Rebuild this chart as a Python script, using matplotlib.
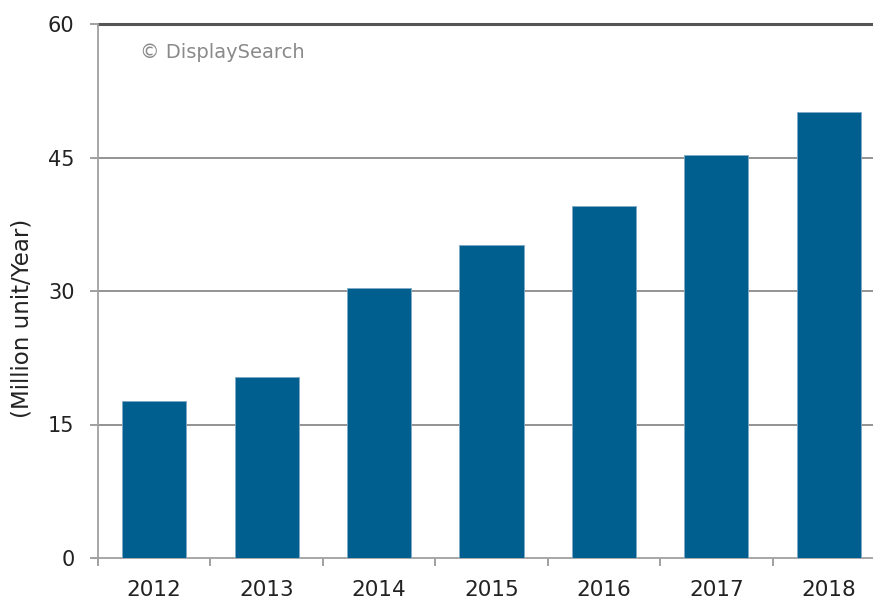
import matplotlib
matplotlib.use("Agg")
import matplotlib.pyplot as plt
import numpy as np

years = ["2012", "2013", "2014", "2015", "2016", "2017", "2018"]
values = [17.6, 20.3, 30.3, 35.2, 39.5, 45.3, 50.1]
yticks = [0, 15, 30, 45, 60]

W, H = 873, 601
fig = plt.figure(figsize=(W/100, H/100), dpi=100)
left = 98/W
right = 885/W
bottom = (H-558)/H
top = (H-24)/H
ax = fig.add_axes([left, bottom, right-left, top-bottom])

x = np.arange(len(years))
ax.bar(x, values, width=0.57, color="#005F8F", edgecolor="#7fa9c4", linewidth=0.6, zorder=3)

ax.set_xlim(-0.5, len(years)-0.5)
ax.set_ylim(0, 60)
ax.set_yticks(yticks)
ax.set_yticklabels([str(v) for v in yticks], fontsize=15, color="#222222")
for v in yticks[1:-1]:
    ax.axhline(v, color="#8a8a8a", linewidth=1.3, zorder=1)
ax.axhline(60, color="#555555", linewidth=2.2, zorder=1, clip_on=False)

ax.set_xticks(x)
ax.set_xticklabels(years, fontsize=15.5, color="#222222")
ax.set_xticks(np.arange(len(years)+1)-0.5, minor=True)
ax.tick_params(axis="x", which="major", length=0, pad=16)
ax.tick_params(axis="x", which="minor", length=6, width=1.3, color="#999999", direction="out")
ax.tick_params(axis="y", length=6, width=1.3, color="#999999", pad=11)

for s in ["top", "right"]:
    ax.spines[s].set_visible(False)
ax.spines["left"].set_color("#a0a0a0")
ax.spines["left"].set_linewidth(1.3)
ax.spines["bottom"].set_color("#a0a0a0")
ax.spines["bottom"].set_linewidth(1.3)

fig.text(22/W, (H-318)/H, "(Million unit/Year)", rotation=90, fontsize=16.5,
         color="#222222", va="center", ha="center")
fig.text(140/W, (H-53)/H, "© DisplaySearch", fontsize=14,
         color="#8a8a8a", va="center", ha="left")

fig.savefig("out.png", dpi=100)
